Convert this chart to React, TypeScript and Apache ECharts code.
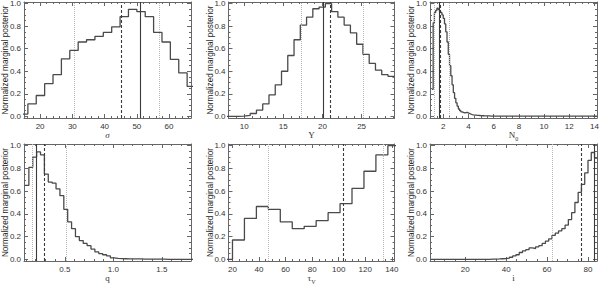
import React, { useEffect, useRef } from "react";
import * as echarts from "echarts";

// ---------------- data ----------------
const yTickValues = [0, 0.2, 0.4, 0.6, 0.8, 1.0];
const yTitle = "Normalized marginal posterior";

// sigma
const sigmaBinStart = 13.6;
const sigmaBinWidth = 2.6;
const sigmaValues = [0.02, 0.11, 0.185, 0.29, 0.37, 0.51, 0.585, 0.66, 0.68, 0.71, 0.745, 0.795, 0.885, 0.95, 0.93, 0.885, 0.745, 0.66, 0.505, 0.385, 0.265];
const sigmaTicks = [20, 30, 40, 50, 60];
const sigmaMarkers = [30.5, 45.1, 51.05, 56.9];

// Y
const yBinStart = 7.57;
const yBinWidth = 0.8;
const yValues = [0, 0, 0.002, 0.008, 0.025, 0.055, 0.11, 0.19, 0.28, 0.4, 0.54, 0.68, 0.81, 0.88, 0.955, 0.97, 1.0, 0.93, 0.88, 0.81, 0.74, 0.64, 0.55, 0.47, 0.41, 0.37, 0.355];
const yTicks = [10, 15, 20, 25];
const yMarkers = [17.25, 20.1, 21.05, 25.2];

// N0
const n0BinStart = 1.1;
const n0BinWidth = 0.1;
const n0Values = [
  0.24, 0.83, 0.92, 0.94, 0.96, 0.95, 0.93, 0.92, 0.9, 0.87,
  0.82, 0.75, 0.66, 0.55, 0.45, 0.36, 0.28, 0.21, 0.16, 0.12,
  0.09, 0.065, 0.05, 0.04, 0.035, 0.03, 0.033, 0.035, 0.03, 0.025,
  0.02, 0.016, 0.013, 0.011, 0.01, 0.009, 0.008, 0.007, 0.006, 0.005,
  0.005, 0.004, 0.004, 0.003, 0.003, 0.003, 0.002, 0.002, 0.002, 0.002,
  0.002, 0.002, 0.001, 0.001, 0.001, 0.001, 0.001, 0.001, 0.001, 0.001,
  0.001, 0.001, 0.001, 0.001, 0.001, 0.001, 0.001, 0.001, 0.001, 0.001,
  0.001, 0.001, 0.001, 0.001, 0.001, 0.001, 0.001, 0.001, 0.001, 0.001,
  0.001, 0.001, 0.001, 0.001, 0.001, 0.001, 0.001, 0.001, 0.001, 0.001,
  0.001, 0.001, 0.001, 0.001, 0.001, 0.001, 0.001, 0.001, 0.001, 0.001,
  0.001, 0.001, 0.001, 0.001, 0.001, 0.001, 0.001, 0.001, 0.001, 0.001,
  0.001, 0.001, 0.001, 0.001, 0.001, 0.001, 0.001, 0.001, 0.001, 0.001,
  0.001, 0.001, 0.001, 0.001, 0.001, 0.001, 0.001, 0.001, 0.001, 0.001,
  0.001,
];
const n0Ticks = [2, 4, 6, 8, 10, 12, 14];
const n0Markers = [1.28, 1.66, 1.74, 2.45];

// q
const qBinStart = 0.09;
const qBinWidth = 0.04;
const qValues = [
  0.65, 0.81, 0.9, 0.945, 0.92, 0.75, 0.68, 0.67, 0.62, 0.56,
  0.44, 0.33, 0.27, 0.2, 0.165, 0.14, 0.12, 0.09, 0.065, 0.05,
  0.04, 0.03, 0.012, 0.008, 0.006, 0.005, 0.004, 0.004, 0.003, 0.003,
  0.002, 0.002, 0.002, 0.002, 0.001, 0.001, 0.0, 0.0, 0.0, 0.0,
  0.0, 0.0, 0.0, 0.0,
];
const qTicks = [0.5, 1.0, 1.5];
const qMarkers = [0.157, 0.208, 0.294, 0.507];

// tau_V
const tauBinStart = 11;
const tauBinWidth = 9;
const tauValues = [0, 0.17, 0.36, 0.465, 0.44, 0.33, 0.27, 0.29, 0.34, 0.41, 0.49, 0.625, 0.775, 0.92, 1.0];
const tauTicks = [20, 40, 60, 80, 100, 120, 140];
const tauMarkers = [46.6, 103.5, 133.4];

// i
const incBinStart = 3.2;
const incBinWidth = 1.6;
const incValues = [
  0, 0, 0, 0, 0, 0, 0, 0, 0, 0,
  0, 0, 0, 0, 0, 0, 0, 0, 0.001, 0.002,
  0.003, 0.005, 0.007, 0.01, 0.018, 0.03, 0.04, 0.06, 0.075, 0.085,
  0.1, 0.095, 0.11, 0.12, 0.14, 0.16, 0.18, 0.21, 0.23, 0.25,
  0.27, 0.3, 0.35, 0.41, 0.5, 0.59, 0.66, 0.76, 0.87, 0.94,
  0.89,
];
const incTicks = [20, 40, 60, 80];
const incMarkers = [62.6, 76.9, 83.1];

// ---------------- styling ----------------
const FRAME = "#666";
const HIST = "#4a4a4a";
const TXT = "#333";
const SANS = "'Liberation Sans', Arial, sans-serif";
const SERIF = "'Liberation Serif', 'DejaVu Serif', serif";

const subRich = {
  m: { fontFamily: SERIF, fontSize: 9, color: TXT, lineHeight: 10, verticalAlign: "top" },
  s: { fontFamily: SERIF, fontSize: 6, color: TXT, lineHeight: 6, padding: [5, 0, 0, 0], verticalAlign: "top" },
};

type Kind = "solid" | "dashed" | "dotted";
type Panel = {
  name: string;
  rich?: any;
  min: number;
  max: number;
  ticks: number[];
  minorStep: number;
  decimals: number;
  binStart: number;
  binWidth: number;
  values: number[];
  markers: number[];
  kinds: Kind[];
  left: number;
  top: number;
  width: number;
  height: number;
};

const panels: Panel[] = [
  { name: "{g|σ}", rich: { g: { fontFamily: SERIF, fontSize: 9, fontStyle: "italic", color: TXT } }, min: 15.0, max: 66.8, ticks: sigmaTicks, minorStep: 2, decimals: 0, binStart: sigmaBinStart, binWidth: sigmaBinWidth, values: sigmaValues, markers: sigmaMarkers, kinds: ["dotted", "dashed", "solid", "dotted"], left: 24, top: 2, width: 167, height: 116 },
  { name: "Y", min: 8.0, max: 29.2, ticks: yTicks, minorStep: 1, decimals: 0, binStart: yBinStart, binWidth: yBinWidth, values: yValues, markers: yMarkers, kinds: ["dotted", "solid", "dashed", "dotted"], left: 228.5, top: 2, width: 166, height: 116 },
  { name: "{m|N}{s|0}", rich: subRich, min: 0.95, max: 14.2, ticks: n0Ticks, minorStep: 0.5, decimals: 0, binStart: n0BinStart, binWidth: n0BinWidth, values: n0Values, markers: n0Markers, kinds: ["dotted", "solid", "dashed", "dotted"], left: 430, top: 2, width: 167, height: 116 },
  { name: "q", min: 0.08, max: 1.8, ticks: qTicks, minorStep: 0.1, decimals: 1, binStart: qBinStart, binWidth: qBinWidth, values: qValues, markers: qMarkers, kinds: ["dotted", "solid", "dashed", "dotted"], left: 24, top: 144, width: 167, height: 117 },
  { name: "{m|τ}{s|V}", rich: subRich, min: 17, max: 142, ticks: tauTicks, minorStep: 5, decimals: 0, binStart: tauBinStart, binWidth: tauBinWidth, values: tauValues, markers: tauMarkers, kinds: ["dotted", "dashed", "dotted"], left: 228.5, top: 144, width: 166, height: 117 },
  { name: "i", min: 2.8, max: 84.4, ticks: incTicks, minorStep: 5, decimals: 0, binStart: incBinStart, binWidth: incBinWidth, values: incValues, markers: incMarkers, kinds: ["dotted", "dashed", "solid"], left: 430, top: 144, width: 167, height: 117 },
];

const Y_MIN = -0.015;
const Y_MAX = 1.015;

function stepPoints(start: number, width: number, values: number[]) {
  const pts: number[][] = [];
  values.forEach((v, k) => {
    pts.push([start + k * width, v]);
    pts.push([start + (k + 1) * width, v]);
  });
  return pts;
}

function minorValues(min: number, max: number, step: number, majors: number[]) {
  const out: number[] = [];
  const first = Math.ceil(min / step - 1e-9);
  for (let k = first; k * step <= max + 1e-9; k++) {
    const v = +(k * step).toFixed(6);
    if (!majors.some((m) => Math.abs(m - v) < 1e-6)) out.push(v);
  }
  return out;
}

const yMinor = minorValues(0, 1, 0.05, yTickValues);

function markerStyle(kind: Kind) {
  if (kind === "solid") return { color: "#3a3a3a", width: 1.1, type: "solid" as const };
  if (kind === "dashed") return { color: "#3a3a3a", width: 1.1, type: [3, 2] as any };
  return { color: "#b8b8b8", width: 1, type: [1, 1] as any };
}

function buildOption() {
  const grid: any[] = [];
  const xAxis: any[] = [];
  const yAxis: any[] = [];
  const series: any[] = [];
  const graphic: any[] = [];

  panels.forEach((p, i) => {
    grid.push({ left: p.left, top: p.top, width: p.width, height: p.height, containLabel: false, outerBoundsMode: "none" });
    graphic.push({
      type: "text",
      x: p.left - 18.5,
      y: p.top + p.height / 2,
      rotation: Math.PI / 2,
      silent: true,
      style: { text: yTitle, fontFamily: SANS, fontSize: 8.2, fill: "#222", align: "center", verticalAlign: "middle" },
    });
    const xMinor = minorValues(p.min, p.max, p.minorStep, p.ticks);
    const lineStyle = { color: FRAME, width: 1 };
    const xBase = { type: "value", gridIndex: i, min: p.min, max: p.max, splitLine: { show: false } };
    const mainX = xAxis.length;
    xAxis.push({
      ...xBase,
      position: "bottom",
      axisLine: { show: true, onZero: false, lineStyle },
      axisTick: { show: true, inside: true, length: 4, customValues: p.ticks, lineStyle },
      axisLabel: {
        show: true, customValues: p.ticks, margin: 4, fontSize: 8, color: TXT, fontFamily: SANS,
        formatter: (v: number) => v.toFixed(p.decimals),
      },
      name: p.name,
      nameLocation: "middle",
      nameGap: 12,
      nameTextStyle: { fontFamily: SERIF, fontSize: 9, color: TXT, rich: p.rich },
    });
    xAxis.push({ ...xBase, position: "bottom", axisLine: { show: false, onZero: false }, axisTick: { show: true, inside: true, length: 2, customValues: xMinor, lineStyle }, axisLabel: { show: false } });
    xAxis.push({ ...xBase, position: "top", axisLine: { show: true, onZero: false, lineStyle }, axisTick: { show: true, inside: true, length: 4, customValues: p.ticks, lineStyle }, axisLabel: { show: false } });
    xAxis.push({ ...xBase, position: "top", axisLine: { show: false, onZero: false }, axisTick: { show: true, inside: true, length: 2, customValues: xMinor, lineStyle }, axisLabel: { show: false } });

    const yBase = { type: "value", gridIndex: i, min: Y_MIN, max: Y_MAX, splitLine: { show: false } };
    const mainY = yAxis.length;
    yAxis.push({
      ...yBase,
      position: "left",
      axisLine: { show: true, onZero: false, lineStyle },
      axisTick: { show: true, inside: true, length: 4, customValues: yTickValues, lineStyle },
      axisLabel: {
        show: true, customValues: yTickValues, margin: 3, fontSize: 8, color: TXT, fontFamily: SANS,
        formatter: (v: number) => v.toFixed(1),
      },
    });
    yAxis.push({ ...yBase, position: "left", axisLine: { show: false, onZero: false }, axisTick: { show: true, inside: true, length: 2, customValues: yMinor, lineStyle }, axisLabel: { show: false } });
    yAxis.push({ ...yBase, position: "right", axisLine: { show: true, onZero: false, lineStyle }, axisTick: { show: true, inside: true, length: 4, customValues: yTickValues, lineStyle }, axisLabel: { show: false } });
    yAxis.push({ ...yBase, position: "right", axisLine: { show: false, onZero: false }, axisTick: { show: true, inside: true, length: 2, customValues: yMinor, lineStyle }, axisLabel: { show: false } });

    series.push({
      type: "line",
      xAxisIndex: mainX,
      yAxisIndex: mainY,
      data: stepPoints(p.binStart, p.binWidth, p.values),
      showSymbol: false,
      symbol: "none",
      clip: true,
      lineStyle: { color: HIST, width: 1.3 },
      z: 3,
      markLine: {
        silent: true,
        symbol: ["none", "none"],
        label: { show: false },
        animation: false,
        data: p.markers.map((v, k) => ({ xAxis: v, lineStyle: markerStyle(p.kinds[k]) })),
      },
    });
  });

  return { animation: false, backgroundColor: "#fff", grid, xAxis, yAxis, series, graphic };
}

export default function App() {
  const ref = useRef<HTMLDivElement>(null);
  useEffect(() => {
    document.body.style.margin = "0";
    if (!ref.current) return;
    const chart = echarts.init(ref.current, undefined, { renderer: "svg" });
    chart.setOption(buildOption() as any);
    return () => chart.dispose();
  }, []);
  return <div ref={ref} style={{ width: 600, height: 284 }} />;
}
